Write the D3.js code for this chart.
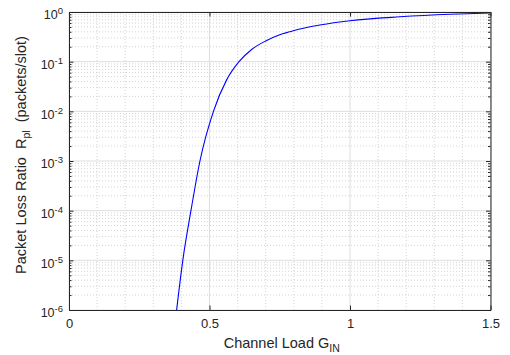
<!DOCTYPE html>
<html>
<head>
<meta charset="utf-8">
<script src="https://cdn.jsdelivr.net/npm/d3@7"></script>
<style>
body { margin: 0; background: #fff; }
text { font-family: "Liberation Sans", Arial, sans-serif; fill: #262626; }
</style>
</head>
<body>
<div id="chart"></div>
<script>
// values
const channelLoad = [0.383, 0.405, 0.434, 0.466, 0.514, 0.561, 0.605, 0.65, 0.70, 0.75, 0.786, 0.822, 0.893, 1.0, 1.178, 1.356, 1.5];
const lossRatio = [1e-6, 1e-5, 1e-4, 1e-3, 1e-2, 0.043, 0.1, 0.176, 0.262, 0.35, 0.40, 0.455, 0.547, 0.668, 0.80, 0.90, 0.955];
const xTicks = [0, 0.5, 1, 1.5];
const xMinor = [0.1, 0.2, 0.3, 0.4, 0.6, 0.7, 0.8, 0.9, 1.1, 1.2, 1.3, 1.4];
const yExponents = [-6, -5, -4, -3, -2, -1, 0];

const width = 510, height = 355;
const margin = {left: 69, right: 19.5, top: 12, bottom: 45};
const w = width - margin.left - margin.right;
const h = height - margin.top - margin.bottom;

const x = d3.scaleLinear().domain([0, 1.5]).range([0, w]);
const y = d3.scaleLog().domain([1e-6, 1]).range([h, 0]);

const yMajor = yExponents.map(e => Math.pow(10, e));
let yMinor = [];
yExponents.slice(0, -1).forEach(e => {
    for (let k = 2; k <= 9; k++) yMinor.push(k * Math.pow(10, e));
});

const svg = d3.select("#chart").append("svg")
    .attr("width", width).attr("height", height);
const g = svg.append("g").attr("transform", `translate(${margin.left},${margin.top})`);

// minor grid
g.append("g").selectAll("line").data(xMinor).enter().append("line")
    .attr("x1", d => x(d)).attr("x2", d => x(d)).attr("y1", 0).attr("y2", h)
    .attr("stroke", "#d4d4d4").attr("stroke-dasharray", "1,2");
g.append("g").selectAll("line").data(yMinor).enter().append("line")
    .attr("y1", d => y(d)).attr("y2", d => y(d)).attr("x1", 0).attr("x2", w)
    .attr("stroke", "#d4d4d4").attr("stroke-dasharray", "1,2");
// major grid
g.append("g").selectAll("line").data(xTicks).enter().append("line")
    .attr("x1", d => x(d)).attr("x2", d => x(d)).attr("y1", 0).attr("y2", h)
    .attr("stroke", "#dedede");
g.append("g").selectAll("line").data(yMajor).enter().append("line")
    .attr("y1", d => y(d)).attr("y2", d => y(d)).attr("x1", 0).attr("x2", w)
    .attr("stroke", "#dedede");

// curve
let pts = channelLoad.map((c, i) => [c, lossRatio[i]]);
let line = d3.line().x(d => x(d[0])).y(d => y(d[1])).curve(d3.curveMonotoneX);
g.append("path").datum(pts)
    .attr("d", line)
    .attr("fill", "none")
    .attr("stroke", "#0000ff")
    .attr("stroke-width", 1.1);

// axes
function styleAxis(sel) {
    sel.select(".domain").attr("stroke", "#262626");
    sel.selectAll(".tick line").attr("stroke", "#262626");
    sel.selectAll("text").attr("font-size", 13).attr("fill", "#262626");
}
let xAxis = g.append("g").attr("transform", `translate(0,${h})`)
    .call(d3.axisBottom(x).tickValues(xTicks).tickSize(-4.5).tickPadding(8).tickSizeOuter(0)
        .tickFormat(d3.format("")));
styleAxis(xAxis);
xAxis.selectAll("text").attr("dy", "0.75em");
let xTop = g.append("g")
    .call(d3.axisTop(x).tickValues(xTicks).tickSize(-4.5).tickSizeOuter(0).tickFormat(""));
styleAxis(xTop);

let yAxis = g.append("g")
    .call(d3.axisLeft(y).tickValues(yMajor).tickSize(-4.5).tickSizeOuter(0).tickFormat(""));
styleAxis(yAxis);
let yRight = g.append("g").attr("transform", `translate(${w},0)`)
    .call(d3.axisRight(y).tickValues(yMajor).tickSize(-4.5).tickSizeOuter(0).tickFormat(""));
styleAxis(yRight);
let yMinL = g.append("g")
    .call(d3.axisLeft(y).tickValues(yMinor).tickSize(-2.5).tickSizeOuter(0).tickFormat(""));
styleAxis(yMinL);
yMinL.select(".domain").remove();
let yMinR = g.append("g").attr("transform", `translate(${w},0)`)
    .call(d3.axisRight(y).tickValues(yMinor).tickSize(-2.5).tickSizeOuter(0).tickFormat(""));
styleAxis(yMinR);
yMinR.select(".domain").remove();

// y tick labels with exponents
let yl = g.append("g").selectAll("text").data(yExponents).enter().append("text")
    .attr("x", -6).attr("y", d => y(Math.pow(10, d)) + 7.3)
    .attr("text-anchor", "end").attr("font-size", 12.5);
yl.append("tspan").text("10");
yl.append("tspan").attr("dy", -5).attr("font-size", 9.5).text(d => d === 0 ? "0" : "-" + (-d));

// axis titles
let xt = svg.append("text")
    .attr("x", margin.left + w / 2 + 2).attr("y", 348)
    .attr("text-anchor", "middle").attr("font-size", 14.5);
xt.append("tspan").text("Channel Load G");
xt.append("tspan").attr("dy", 4).attr("font-size", 10.5).text("IN");

let yt = svg.append("text")
    .attr("transform", `translate(26,${margin.top + h / 2 - 6}) rotate(-90)`)
    .attr("text-anchor", "middle").attr("font-size", 14.5);
yt.append("tspan").text("Packet Loss Ratio\u00a0\u00a0R");
yt.append("tspan").attr("dy", 4).attr("font-size", 10.5).text("pl");
yt.append("tspan").attr("dy", -4).text("\u00a0\u00a0(packets/slot)");
</script>
</body>
</html>
